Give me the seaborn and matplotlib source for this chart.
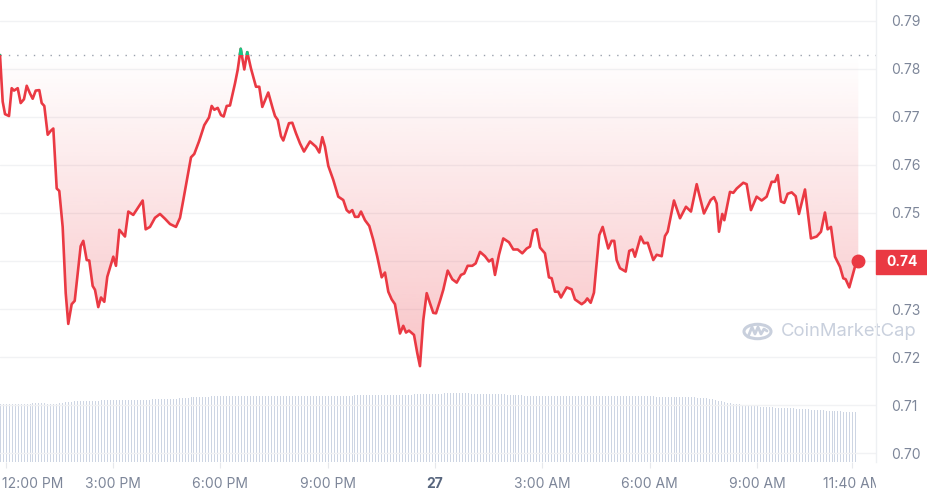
import numpy as np
import pandas as pd
import matplotlib
matplotlib.use("Agg")
import matplotlib.pyplot as plt
import seaborn as sns
from matplotlib.patches import Rectangle, PathPatch, Circle
from matplotlib.transforms import Bbox, TransformedBbox, ScaledTranslation

# --- dane: cena (minuty od 12:00 PM) ---
minutes = [-9.5, -5.0, -1.1, 5.6, 10.1, 14.0, 20.2, 25.2, 30.7, 35.3,
           40.8, 45.3, 50.4, 56.4, 60.4, 64.8, 70.5, 75.5, 79.9, 85.6,
           89.9, 95.6, 100.7, 105.0, 110.7, 115.8, 125.8, 130.2, 135.9, 140.2,
           145.9, 149.8, 155.3, 159.9, 165.4, 170.4, 180.5, 185.0, 190.6, 200.1,
           205.7, 214.0, 229.8, 234.8, 242.0, 250.4, 258.8, 267.2, 275.6, 285.6,
           292.4, 297.9, 310.8, 316.3, 324.2, 333.1, 341.0, 345.5, 349.9, 355.6,
           361.1, 365.6, 370.7, 376.2, 384.6, 389.1, 394.2, 400.2, 405.2, 411.4,
           419.8, 425.3, 430.4, 440.4, 447.8, 451.7, 456.2, 461.7, 465.6, 475.1,
           480.7, 486.9, 493.6, 500.3, 510.4, 520.4, 526.0, 531.0, 535.5, 541.1,
           549.4, 557.8, 566.2, 571.9, 576.3, 581.3, 585.8, 591.4, 595.9, 602.6,
           609.8, 616.5, 623.2, 630.6, 636.1, 641.7, 647.4, 652.9, 661.3, 666.8,
           671.4, 676.4, 684.8, 690.3, 694.8, 700.4, 706.1, 711.6, 717.1, 721.7,
           728.4, 733.9, 741.3, 749.0, 756.4, 763.6, 769.1, 774.8, 782.5, 788.2,
           795.5, 803.8, 810.5, 816.1, 820.6, 827.3, 834.5, 844.1, 851.3, 858.7,
           866.4, 873.8, 879.3, 884.8, 890.5, 896.1, 904.4, 911.1, 915.7, 921.2,
           926.7, 931.3, 940.8, 949.2, 954.7, 966.0, 971.5, 975.4, 981.1, 986.6,
           990.0, 995.5, 1001.2, 1010.6, 1016.3, 1020.6, 1024.7, 1030.2, 1039.8, 1045.8,
           1051.5, 1055.4, 1064.9, 1070.5, 1076.7, 1086.1, 1091.8, 1100.2, 1105.7, 1110.2,
           1120.8, 1130.9, 1140.9, 1149.3, 1158.9, 1163.2, 1171.1, 1182.3, 1187.9, 1192.4,
           1196.3, 1201.8, 1205.2, 1214.7, 1220.3, 1226.0, 1237.0, 1242.7, 1249.9, 1259.4,
           1267.9, 1276.2, 1284.6, 1290.2, 1294.7, 1300.2, 1305.8, 1311.4, 1318.2, 1324.9,
           1330.4, 1340.5, 1350.5, 1360.1, 1367.3, 1374.0, 1378.5, 1384.1, 1390.8, 1399.2,
           1404.7, 1408.7, 1414.8, 1424.3, 1429.9]

prices = [0.7829, 0.7732, 0.7706, 0.7702, 0.7760, 0.7755, 0.7760, 0.7729, 0.7737, 0.7765,
          0.7749, 0.7738, 0.7755, 0.7756, 0.7729, 0.7723, 0.7663, 0.7671, 0.7676, 0.7551,
          0.7546, 0.7471, 0.7333, 0.7269, 0.7310, 0.7317, 0.7431, 0.7442, 0.7402, 0.7401,
          0.7348, 0.7340, 0.7304, 0.7324, 0.7315, 0.7367, 0.7409, 0.7390, 0.7465, 0.7451,
          0.7503, 0.7496, 0.7526, 0.7466, 0.7471, 0.7490, 0.7498, 0.7488, 0.7477, 0.7471,
          0.7490, 0.7527, 0.7616, 0.7623, 0.7649, 0.7683, 0.7699, 0.7723, 0.7715, 0.7719,
          0.7704, 0.7701, 0.7723, 0.7724, 0.7770, 0.7798, 0.7842, 0.7799, 0.7835, 0.7801,
          0.7763, 0.7763, 0.7721, 0.7751, 0.7718, 0.7702, 0.7694, 0.7660, 0.7651, 0.7687,
          0.7688, 0.7666, 0.7645, 0.7628, 0.7649, 0.7638, 0.7626, 0.7658, 0.7638, 0.7598,
          0.7569, 0.7534, 0.7527, 0.7506, 0.7501, 0.7506, 0.7492, 0.7492, 0.7503, 0.7485,
          0.7473, 0.7444, 0.7409, 0.7366, 0.7376, 0.7336, 0.7320, 0.7310, 0.7249, 0.7265,
          0.7251, 0.7255, 0.7246, 0.7208, 0.7181, 0.7277, 0.7333, 0.7312, 0.7292, 0.7291,
          0.7317, 0.7340, 0.7380, 0.7362, 0.7355, 0.7371, 0.7374, 0.7390, 0.7390, 0.7395,
          0.7419, 0.7410, 0.7399, 0.7404, 0.7371, 0.7413, 0.7447, 0.7439, 0.7424, 0.7424,
          0.7416, 0.7426, 0.7430, 0.7463, 0.7466, 0.7428, 0.7416, 0.7366, 0.7364, 0.7336,
          0.7336, 0.7324, 0.7345, 0.7341, 0.7320, 0.7310, 0.7315, 0.7322, 0.7313, 0.7334,
          0.7381, 0.7454, 0.7471, 0.7426, 0.7442, 0.7442, 0.7402, 0.7385, 0.7378, 0.7421,
          0.7424, 0.7409, 0.7451, 0.7437, 0.7438, 0.7402, 0.7413, 0.7410, 0.7452, 0.7461,
          0.7526, 0.7489, 0.7513, 0.7503, 0.7560, 0.7538, 0.7499, 0.7527, 0.7533, 0.7520,
          0.7461, 0.7498, 0.7485, 0.7544, 0.7542, 0.7551, 0.7563, 0.7560, 0.7506, 0.7534,
          0.7526, 0.7534, 0.7565, 0.7565, 0.7579, 0.7524, 0.7521, 0.7540, 0.7543, 0.7535,
          0.7498, 0.7549, 0.7447, 0.7451, 0.7461, 0.7501, 0.7466, 0.7471, 0.7409, 0.7388,
          0.7364, 0.7362, 0.7345, 0.7388, 0.7399]

open_price = 0.7829
last_label = "0.74"

# --- wolumen (słupki co 5 minut, start 11:50 AM) ---
vol_start = -10
vol_step = 5
volume = [289, 289, 290, 290, 290, 291, 291, 291, 292, 292, 292, 293, 293, 293, 293, 293, 290, 289, 289, 289, 293, 296, 299, 301,
          302, 303, 303, 304, 305, 306, 306, 307, 307, 307, 308, 308, 308, 309, 309, 309, 310, 310, 310, 310, 310, 311, 311, 311,
          311, 312, 312, 313, 313, 314, 314, 315, 315, 316, 317, 317, 318, 318, 318, 321, 324, 327, 327, 327, 327, 327, 327, 328,
          328, 328, 328, 328, 329, 329, 329, 329, 329, 330, 330, 330, 330, 330, 330, 330, 330, 330, 330, 330, 330, 330, 330, 330,
          330, 330, 330, 330, 330, 330, 330, 330, 330, 330, 330, 330, 330, 330, 330, 331, 331, 331, 331, 332, 332, 332, 332, 333,
          333, 333, 333, 334, 334, 334, 334, 334, 334, 334, 335, 335, 335, 335, 336, 336, 337, 337, 337, 338, 338, 338, 339, 339,
          340, 341, 341, 342, 342, 343, 343, 343, 343, 343, 343, 343, 343, 343, 342, 342, 341, 341, 341, 340, 340, 340, 340, 339,
          339, 338, 337, 336, 336, 335, 334, 333, 332, 331, 331, 330, 330, 330, 330, 331, 331, 331, 331, 331, 331, 331, 331, 331,
          332, 332, 332, 332, 332, 332, 332, 332, 332, 332, 332, 332, 331, 331, 331, 331, 331, 330, 330, 330, 330, 330, 330, 329,
          329, 329, 328, 328, 327, 327, 326, 326, 326, 325, 325, 325, 324, 324, 324, 323, 323, 323, 322, 322, 320, 318, 316, 314,
          311, 307, 303, 299, 296, 294, 292, 290, 288, 286, 284, 282, 281, 279, 278, 277, 276, 275, 274, 273, 272, 272, 271, 271,
          270, 269, 268, 267, 266, 265, 264, 263, 262, 261, 260, 259, 258, 257, 256, 255, 255, 254, 253, 252, 251, 250, 249, 248]

tick_minutes = [0, 180, 360, 540, 720, 900, 1080, 1260, 1420]
tick_labels = ["12:00 PM", "3:00 PM", "6:00 PM", "9:00 PM", "27", "3:00 AM", "6:00 AM", "9:00 AM", "11:40 AM"]
y_ticks = [0.70, 0.71, 0.72, 0.73, 0.74, 0.75, 0.76, 0.77, 0.78, 0.79]

assert len(minutes) == len(prices)
df = pd.DataFrame({"minute": minutes, "price": prices})
vol_df = pd.DataFrame({"minute": vol_start + vol_step * np.arange(len(volume)), "volume": volume})

RED = "#EA3943"
GREEN = "#16C784"
GRAY = "#7d8699"

sns.set_theme(style="white")
plt.rcParams["font.family"] = ["Inter", "DejaVu Sans"]

W, H = 928, 495
fig = plt.figure(figsize=(W / 100, H / 100), dpi=100)
fig.patch.set_facecolor("white")

ax_w = 876 / W
ax_bottom = 33 / H
xlim = (-9.5, 1459.6)

# wolumen: cienkie pionowe słupki
ax_vol = fig.add_axes([0, ax_bottom, ax_w, 150 / H], zorder=0)
ax_vol.vlines(vol_df["minute"], 0, vol_df["volume"], colors="#cdd5e3", lw=0.72, antialiased=False)
ax_vol.set_xlim(*xlim)
ax_vol.set_ylim(0, 750)
ax_vol.axis("off")

# cena
ax = fig.add_axes([0, ax_bottom, ax_w, 462 / H], zorder=2)
ax.patch.set_alpha(0)
ax.set_xlim(*xlim)
ax.set_ylim(0.69813, 0.79437)

# gradient pod linią
low = np.minimum(df["price"].values, open_price)
poly = ax.fill_between(df["minute"], low, open_price, facecolor="none", edgecolor="none")
clip = PathPatch(poly.get_paths()[0], transform=ax.transData, fc="none", ec="none")
ax.add_patch(clip)
grad = np.zeros((256, 1, 4))
grad[:, 0, 0:3] = matplotlib.colors.to_rgb(RED)
grad[:, 0, 3] = np.linspace(0.30, 0.0, 256)
im = ax.imshow(grad, extent=(df["minute"].min(), df["minute"].max(), 0.7181, open_price),
               origin="lower", aspect="auto", interpolation="bicubic", zorder=1)
im.set_clip_path(clip)
ax.set_xlim(*xlim)
ax.set_ylim(0.69813, 0.79437)

# linia otwarcia
ax.axhline(open_price, color="#9aa1ad", lw=1, linestyle=(0, (1, 5)), zorder=2)

sns.lineplot(data=df, x="minute", y="price", ax=ax, color=RED, lw=1.9, sort=False, zorder=3)
sns.lineplot(data=df, x="minute", y="price", ax=ax, color=GREEN, lw=1.9, sort=False, zorder=4)
green_clip = Rectangle((xlim[0], open_price), xlim[1] - xlim[0], 0.05, transform=ax.transData)
ax.lines[-1].set_clip_path(green_clip)
ax.plot(df["minute"].iloc[-1], df["price"].iloc[-1], "o", color=RED, ms=9, zorder=5)

# osie
ax.set_yticks(y_ticks)
ax.set_yticklabels([f"{v:.2f}" for v in y_ticks])
ax.yaxis.tick_right()
ax.grid(axis="y", color="#f1f2f4", lw=1)
ax.set_xticks(tick_minutes)
ax.set_xticklabels(tick_labels)
ax.tick_params(axis="y", length=0, pad=11, labelsize=10, labelcolor=GRAY)
ax.tick_params(axis="x", length=4, width=0.8, color="#e6e8ec", pad=7, labelsize=10, labelcolor=GRAY, bottom=True)
ax.set_xlabel("")
ax.set_ylabel("")
for s in ["left", "top", "bottom"]:
    ax.spines[s].set_visible(False)
ax.spines["right"].set_color("#eef0f3")
ax.spines["right"].set_linewidth(1)

# etykieta 0.74 na osi jest zasłonięta przez znacznik ostatniej ceny
for lbl in ax.get_yticklabels():
    if lbl.get_text() == last_label:
        lbl.set_visible(False)

xl = ax.get_xticklabels()
xl[0].set_ha("left")
xl[0].set_transform(xl[0].get_transform() + ScaledTranslation(-4 / 100, 0, fig.dpi_scale_trans))
xl[4].set_fontweight("bold")
xl[4].set_color("#58667e")
clip_box = TransformedBbox(Bbox([[0, 0], [ax_w, 1]]), fig.transFigure)
xl[-1].set_clip_box(clip_box)
xl[-1].set_clip_on(True)


def fx(px):
    return px / W


def fy(py):
    return 1 - py / H


# znak wodny
wm = "#c9d0dd"
fig.patches.append(Circle((fx(757.5), fy(331.5)), 13.5 / W, transform=fig.transFigure,
                          fill=False, ec=wm, lw=2.2, zorder=1))
wave_x = [748, 752, 755, 758, 761, 764, 767]
wave_y = [337, 327, 334, 327, 334, 329, 331]
fig.lines.append(plt.Line2D([fx(v) for v in wave_x], [fy(v) for v in wave_y], transform=fig.transFigure,
                            color=wm, lw=2.0, solid_joinstyle="round", solid_capstyle="round"))
fig.text(fx(781), fy(332), "CoinMarketCap", color=wm, fontsize=13.3, ha="left", va="center", zorder=1)

# etykieta ostatniej ceny
fig.patches.append(Rectangle((fx(876), fy(273.5)), fx(52), 24 / H, transform=fig.transFigure,
                             color=RED, zorder=3))
fig.text(fx(902), fy(261.5), last_label, color="white", fontsize=10, fontweight="bold",
         ha="center", va="center", zorder=4)

plt.savefig("out.png", dpi=100, facecolor="white")
